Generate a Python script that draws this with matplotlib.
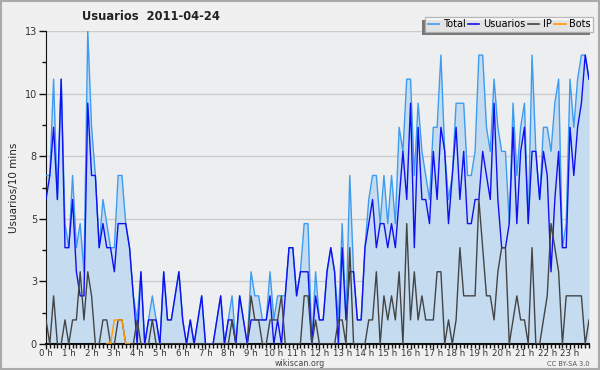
import numpy as np
import matplotlib
matplotlib.use("Agg")
import matplotlib.pyplot as plt
from matplotlib.patches import Rectangle
from matplotlib.lines import Line2D

# ---- data (one value per 10 minutes, 144 points) ----
total = [7, 7, 11, 6, 11, 5, 4, 7, 4, 5, 3, 13, 9, 7, 4, 6, 5, 4, 4, 7, 7, 5, 4, 2,
         1, 3, 0, 1, 2, 1, 0, 3, 1, 1, 2, 3, 1, 0, 1, 0, 1, 2, 0, 0, 0, 1, 2, 0,
         1, 2, 0, 2, 1, 0, 3, 2, 2, 1, 1, 3, 1, 2, 2, 2, 4, 4, 2, 3, 5, 5, 0, 3,
         1, 1, 3, 4, 3, 1, 5, 1, 7, 3, 1, 1, 4, 6, 7, 7, 5, 7, 5, 7, 5, 9, 8, 11,
         11, 7, 10, 8, 7, 6, 9, 9, 12, 8, 6, 7, 10, 10, 10, 7, 7, 8, 12, 12, 9, 8, 11, 9,
         8, 8, 5, 10, 7, 9, 10, 5, 12, 8, 6, 9, 9, 8, 10, 11, 4, 5, 11, 9, 11, 12, 12, 11]
usuarios = [6, 7, 9, 6, 11, 4, 4, 6, 3, 2, 2, 10, 7, 7, 4, 5, 4, 4, 3, 5, 5, 5, 4, 2,
            0, 3, 0, 1, 1, 1, 0, 3, 1, 1, 2, 3, 1, 0, 1, 0, 1, 2, 0, 0, 0, 1, 2, 0,
            1, 1, 0, 2, 1, 0, 1, 1, 1, 1, 1, 2, 0, 1, 0, 2, 4, 4, 2, 3, 3, 3, 0, 2,
            1, 1, 3, 4, 3, 0, 4, 1, 3, 3, 1, 1, 4, 5, 6, 4, 5, 5, 4, 5, 4, 6, 8, 6,
            10, 4, 9, 6, 6, 5, 8, 6, 9, 8, 5, 7, 9, 6, 8, 5, 5, 6, 6, 8, 7, 6, 10, 6,
            4, 4, 5, 9, 5, 8, 9, 5, 8, 8, 6, 8, 7, 3, 6, 8, 4, 4, 9, 7, 9, 10, 12, 11]
ip = [1, 0, 2, 0, 0, 1, 0, 1, 1, 3, 1, 3, 2, 0, 0, 1, 1, 0, 0, 1, 1, 0, 0, 0,
      1, 0, 0, 0, 1, 0, 0, 0, 0, 0, 0, 0, 0, 0, 0, 0, 0, 0, 0, 0, 0, 0, 0, 0,
      0, 1, 0, 0, 0, 0, 2, 1, 1, 0, 0, 1, 1, 1, 2, 0, 0, 0, 0, 0, 2, 2, 0, 1,
      0, 0, 0, 0, 0, 1, 1, 0, 4, 0, 0, 0, 0, 1, 1, 3, 0, 2, 1, 2, 1, 3, 0, 5,
      1, 3, 1, 2, 1, 1, 1, 3, 3, 0, 1, 0, 1, 4, 2, 2, 2, 2, 6, 4, 2, 2, 1, 3,
      4, 4, 0, 1, 2, 1, 1, 0, 4, 0, 0, 1, 2, 5, 4, 3, 0, 2, 2, 2, 2, 2, 0, 1]
bots = [0] * 18 + [1, 1, 1] + [0] * 123

hour_labels = [f"{h} h" for h in range(24)]
ytick_values = [0, 2.6, 5.2, 7.8, 10.4, 13]
ytick_labels = ["0", "3", "5", "8", "10", "13"]
title = "Usuarios  2011-04-24"
ylabel = "Usuarios/10 mins"
series_names = ["Total", "Usuarios", "IP", "Bots"]

# ---- styling ----
c_fill = "#c5dcf0"
c_total = "#3d9cf0"
c_user = "#1010f0"
c_ip = "#444444"
c_bots = "#ff9a00"

fig = plt.figure(figsize=(6.0, 3.7), dpi=100)
fig.patch.set_facecolor("#f0f0f0")
fig.patches.append(Rectangle((0.001, 0.002), 0.997, 0.995, transform=fig.transFigure,
                             fill=False, edgecolor="#aaaaaa", lw=1.5))

ax = fig.add_axes([46 / 600, 26 / 370, 543 / 600, 313 / 370])
ax.set_facecolor("#edeef0")

x = np.arange(len(total))
ax.fill_between(x, total, 0, color=c_fill, lw=0, zorder=1)
ax.plot(x, total, color=c_total, lw=1.0, zorder=3)
ax.plot(x, usuarios, color=c_user, lw=1.0, zorder=4)
ax.plot(x, ip, color=c_ip, lw=1.0, zorder=5)
bots_arr = np.array(bots, dtype=float)
ax.plot(x[16:23], bots_arr[16:23], color=c_bots, lw=1.0, zorder=6)

ax.set_xlim(0, len(total) - 1)
ax.set_ylim(0, 13)

ax.set_yticks(ytick_values)
ax.set_yticklabels(ytick_labels)
ax.set_yticks([v + 1.3 for v in ytick_values[:-1]], minor=True)
ax.set_xticks(np.arange(0, 144, 6))
ax.set_xticklabels(hour_labels)
ax.set_xticks(np.arange(0, 144, 1), minor=True)

ax.tick_params(axis="y", which="major", labelsize=7, colors="#333333", length=5, width=1, pad=1.5)
ax.tick_params(axis="x", which="major", labelsize=6.2, colors="#333333", length=3.5, width=1, pad=0.3)
ax.tick_params(axis="both", which="minor", length=3, width=1, color="#111111")
ax.tick_params(axis="both", which="major", color="#111111")

ax.grid(axis="y", which="major", color="#cccccc", lw=1, zorder=0)
ax.set_axisbelow(True)
for s in ["top", "right"]:
    ax.spines[s].set_visible(False)
ax.spines["left"].set_color("#111111")
ax.spines["bottom"].set_color("#111111")
ax.spines["bottom"].set_linewidth(1.5)

ax.set_ylabel(ylabel, fontsize=7.5, color="#222222", labelpad=4)

fig.text(151 / 600, 1 - 17 / 370, title, ha="center", va="center",
         fontsize=8.3, fontweight="bold", color="#222222")
fig.text(300 / 600, 1 - 364 / 370, "wikiscan.org", ha="center", va="center",
         fontsize=5.8, color="#444444")
fig.text(590 / 600, 1 - 364 / 370, "CC BY-SA 3.0", ha="right", va="center",
         fontsize=4.8, color="#555555")

handles = [Line2D([], [], color=c, lw=1.2) for c in [c_total, c_user, c_ip, c_bots]]
leg = fig.legend(handles, series_names, loc="upper right", bbox_to_anchor=(593 / 600, 1 - 17 / 370),
                 ncol=4, fontsize=7, handlelength=1.2, handletextpad=0.35, columnspacing=0.25,
                 frameon=True, fancybox=False, borderpad=0.25, borderaxespad=0)
leg.get_frame().set_edgecolor("#aaaaaa")
leg.get_frame().set_facecolor("white")
leg.get_frame().set_linewidth(1)
leg.set_zorder(10)

# shadow to the lower-left of the legend box
fig.canvas.draw()
bb = leg.get_window_extent()
W, H = fig.get_size_inches() * fig.dpi
fig.patches.append(Rectangle(((bb.x0 - 3) / W, (bb.y0 - 3) / H), bb.width / W, bb.height / H,
                             transform=fig.transFigure, facecolor="#777777", edgecolor="none",
                             zorder=9))

fig.savefig("out.png", dpi=100, facecolor=fig.get_facecolor())
